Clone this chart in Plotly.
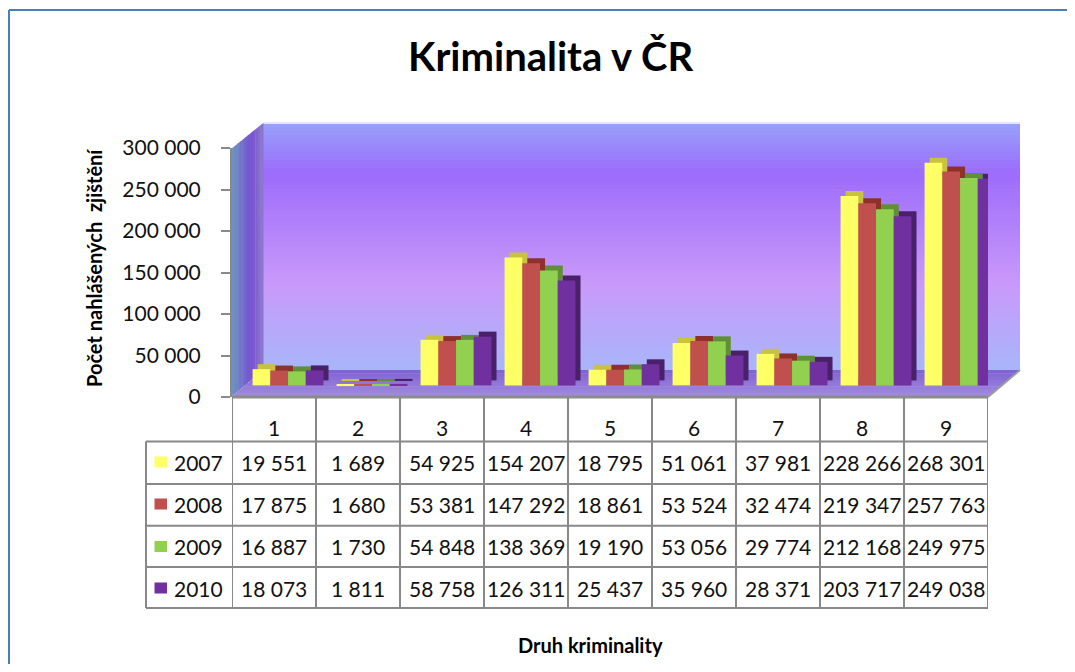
import plotly.graph_objects as go

# ---------------- data ----------------
categories = ["1", "2", "3", "4", "5", "6", "7", "8", "9"]
years = ["2007", "2008", "2009", "2010"]
v2007 = [19551, 1689, 54925, 154207, 18795, 51061, 37981, 228266, 268301]
v2008 = [17875, 1680, 53381, 147292, 18861, 53524, 32474, 219347, 257763]
v2009 = [16887, 1730, 54848, 138369, 19190, 53056, 29774, 212168, 249975]
v2010 = [18073, 1811, 58758, 126311, 25437, 35960, 28371, 203717, 249038]
y_ticks = [0, 50000, 100000, 150000, 200000, 250000, 300000]

series = [v2007, v2008, v2009, v2010]
front_colors = ["#FFFF66", "#C0504D", "#92D050", "#7030A0"]
depth_colors = ["#C8C23E", "#8E302C", "#5F9036", "#4A2068"]

# ---------------- geometry ----------------
# page has an 8px body margin, so the figure is 16px smaller than the window
W, H = 1059, 656
L, T = 224, 140
PW, PH = 756, 249
R, B = W - L - PW, H - T - PH


def px(X):  # reference page pixel -> paper
    return (X - 8 - L) / PW


def py(Y):
    return (T + PH - (Y - 8)) / PH


FONT = "Lato"
fig = go.Figure()

# bars with pseudo-3D depth (depth face drawn behind, shifted up/right)
BASE = 14000
DEPTH_Y = 6000
DEPTH_X = 0.06
BW = 0.211
START = -0.255
for i, (yr, vals) in enumerate(zip(years, series)):
    off = START + BW * i
    fig.add_trace(go.Bar(
        x=categories, y=vals, base=BASE + DEPTH_Y, offset=off + DEPTH_X, width=BW,
        marker=dict(color=depth_colors[i], line=dict(width=0)),
        showlegend=False, hoverinfo="skip"))
    fig.add_trace(go.Bar(
        x=categories, y=vals, base=BASE, offset=off, width=BW, name=yr,
        marker=dict(color=front_colors[i], line=dict(width=0)),
        showlegend=False))

shapes = []


def lerp(c1, c2, t):
    return tuple(int(round(a + (b - a) * t)) for a, b in zip(c1, c2))


def grad(stops, t):
    for (t0, c0), (t1, c1) in zip(stops, stops[1:]):
        if t0 <= t <= t1:
            return lerp(c0, c1, (t - t0) / (t1 - t0) if t1 > t0 else 0)
    return stops[-1][1]


def rgb(c):
    return "rgb(%d,%d,%d)" % c


# back wall gradient
wall_stops = [(0.0, (152, 162, 250)), (0.2, (156, 108, 251)),
              (0.65, (201, 153, 250)), (1.0, (168, 182, 250))]
Xw0, Xw1, Yw0, Yw1 = 263, 1020, 123, 370
N = 60
for k in range(N):
    ya = Yw0 + (Yw1 - Yw0) * k / N
    yb = Yw0 + (Yw1 - Yw0) * (k + 1) / N + 0.8
    c = grad(wall_stops, (k + 0.5) / N)
    shapes.append(dict(type="rect", xref="paper", yref="paper", layer="below",
                       x0=px(Xw0), x1=px(Xw1), y0=py(ya), y1=py(min(yb, Yw1)),
                       fillcolor=rgb(c), line=dict(width=0)))
shapes.append(dict(type="line", xref="paper", yref="paper", layer="below",
                   x0=px(Xw0), x1=px(Xw1), y0=py(123), y1=py(123),
                   line=dict(color="#E4E6FB", width=2)))

# side wall (parallelogram) with horizontal gradient
side_stops = [(0.0, (108, 150, 190)), (0.35, (116, 110, 205)), (0.6, (118, 80, 210)),
              (1.0, (142, 122, 204))]
M = 12
for k in range(M):
    ta, tb = k / M, (k + 1) / M
    xa, xb = 232 + 31 * ta, 232 + 31 * tb + 0.5
    yta, ytb = 148 - 25 * ta, 148 - 25 * tb
    yba, ybb = 396 - 26 * ta, 396 - 26 * tb
    c = grad(side_stops, (k + 0.5) / M)
    path = "M %f %f L %f %f L %f %f L %f %f Z" % (
        px(xa), py(yta), px(xb), py(ytb), px(xb), py(ybb), px(xa), py(yba))
    shapes.append(dict(type="path", xref="paper", yref="paper", layer="below",
                       path=path, fillcolor=rgb(c), line=dict(width=0)))

# floor
floor_stops = [(0.0, (128, 96, 214)), (1.0, (160, 140, 220))]
F = 8
for k in range(F):
    ta, tb = k / F, (k + 1) / F
    ya, yb = 370 + 26 * ta, 370 + 26 * tb + 0.5
    xla, xlb = 263 - 31 * ta, 263 - 31 * tb
    xra, xrb = 1020 - 32 * ta, 1020 - 32 * tb
    c = grad(floor_stops, (k + 0.5) / F)
    path = "M %f %f L %f %f L %f %f L %f %f Z" % (
        px(xla), py(ya), px(xra), py(ya), px(xrb), py(yb), px(xlb), py(yb))
    shapes.append(dict(type="path", xref="paper", yref="paper", layer="below",
                       path=path, fillcolor=rgb(c), line=dict(width=0)))

GRID = "#888888"
shapes.append(dict(type="line", xref="paper", yref="paper",
                   x0=px(232), x1=px(988), y0=py(397), y1=py(397),
                   line=dict(color="#8C8C8C", width=3)))
shapes.append(dict(type="line", xref="paper", yref="paper",
                   x0=px(988), x1=px(1020), y0=py(397), y1=py(370),
                   line=dict(color="#9A9A9A", width=2)))

# table grid
row_lines = [441.5, 484, 525.7, 567, 608]
for Y in row_lines:
    shapes.append(dict(type="line", xref="paper", yref="paper",
                       x0=px(146), x1=px(988), y0=py(Y), y1=py(Y),
                       line=dict(color=GRID, width=2)))
shapes.append(dict(type="line", xref="paper", yref="paper",
                   x0=px(146), x1=px(146), y0=py(441.5), y1=py(608),
                   line=dict(color=GRID, width=2)))
for j in range(len(categories) + 1):
    shapes.append(dict(type="line", xref="x", yref="paper",
                       x0=j - 0.5, x1=j - 0.5, y0=py(397), y1=py(608),
                       line=dict(color=GRID, width=2)))

# outer frame (blue)
shapes.append(dict(type="line", xref="paper", yref="paper",
                   x0=px(9), x1=px(9), y0=py(10), y1=py(690),
                   line=dict(color="#4A7EBB", width=2)))
shapes.append(dict(type="line", xref="paper", yref="paper",
                   x0=px(9), x1=px(1090), y0=py(10), y1=py(10),
                   line=dict(color="#4A7EBB", width=2)))

annotations = []
annotations.append(dict(text="<b>Kriminalita v ČR</b>", xref="paper", yref="paper",
                        x=px(550), y=py(56), showarrow=False, xanchor="center",
                        yanchor="middle", font=dict(family=FONT, size=40, color="#000")))
annotations.append(dict(text="<b>Počet nahlášených  zjištění</b>", xref="paper", yref="paper",
                        x=px(94), y=py(268), showarrow=False, textangle=-90,
                        xanchor="center", yanchor="middle",
                        font=dict(family=FONT, size=20, color="#000")))
annotations.append(dict(text="<b>Druh kriminality</b>", xref="paper", yref="paper",
                        x=px(590), y=py(645), showarrow=False,
                        xanchor="center", yanchor="middle",
                        font=dict(family=FONT, size=20, color="#000")))

# table header (category index positions on the category axis)
for j, c in enumerate(categories):
    annotations.append(dict(text=c, xref="x", yref="paper", x=j, y=py(427),
                            showarrow=False, xanchor="center", yanchor="middle",
                            font=dict(family=FONT, size=21, color="#111")))

row_centers = [462, 504, 546.5, 588]


def fmt(v):
    return f"{v:,}".replace(",", " ")


for i, (yr, vals) in enumerate(zip(years, series)):
    yc = row_centers[i]
    shapes.append(dict(type="rect", xref="paper", yref="paper",
                       x0=px(154.5), x1=px(167), y0=py(yc + 5.5), y1=py(yc - 5.5),
                       fillcolor=front_colors[i], line=dict(width=0)))
    annotations.append(dict(text=yr, xref="paper", yref="paper", x=px(198), y=py(yc),
                            showarrow=False, xanchor="center", yanchor="middle",
                            font=dict(family=FONT, size=21, color="#111")))
    for j, v in enumerate(vals):
        annotations.append(dict(text=fmt(v), xref="x", yref="paper", x=j, y=py(yc),
                                showarrow=False, xanchor="center", yanchor="middle",
                                font=dict(family=FONT, size=21, color="#111")))

fig.update_layout(
    width=W, height=H, autosize=False,
    margin=dict(l=L, r=R, t=T, b=B, pad=0),
    paper_bgcolor="white", plot_bgcolor="rgba(0,0,0,0)",
    barmode="overlay", separators=". ",
    shapes=shapes, annotations=annotations,
    font=dict(family=FONT, color="#111"),
    xaxis=dict(type="category", range=[-0.5, 8.5], showticklabels=False, ticks="",
               showline=False, showgrid=False, zeroline=False, fixedrange=True),
    yaxis=dict(range=[0, 300000], tickvals=y_ticks, tickformat=",d",
               ticks="outside", ticklen=9, tickwidth=1.5, tickcolor="#8A8A8A",
               showline=True, linecolor="#8A8A8A", linewidth=2,
               showgrid=False, zeroline=False, fixedrange=True,
               tickfont=dict(family=FONT, size=21, color="#111"),
               ticklabelstandoff=16),
)

fig.write_html("out.html", config={"displayModeBar": False})
